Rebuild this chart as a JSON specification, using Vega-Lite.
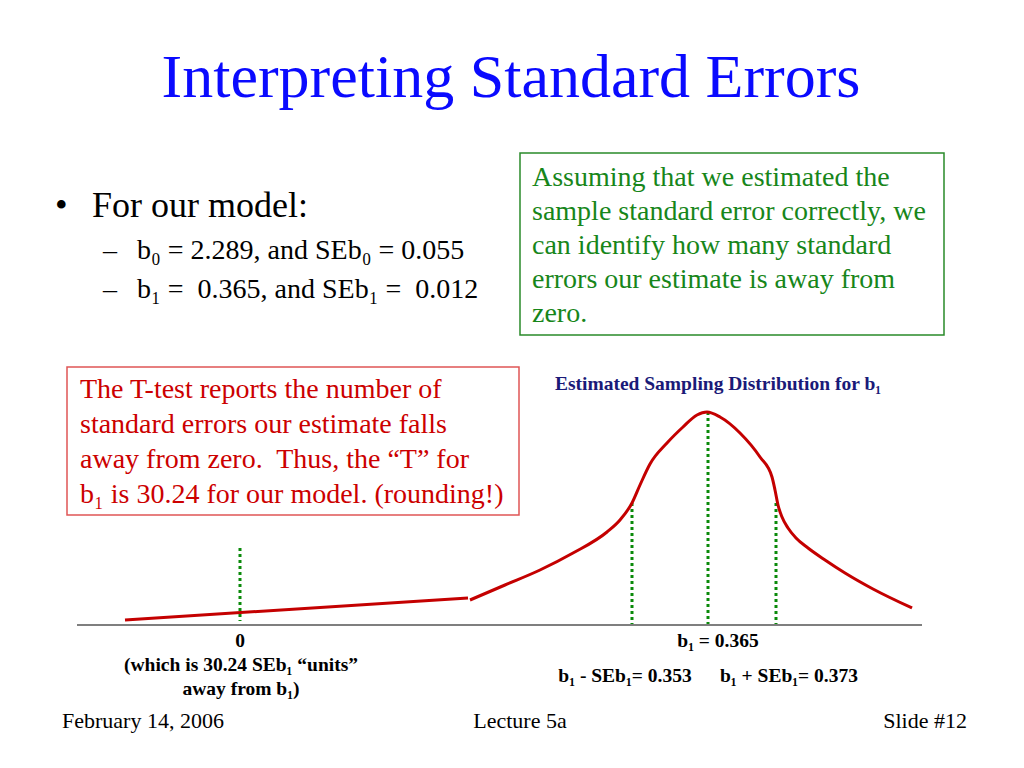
{
  "$schema": "https://vega.github.io/schema/vega-lite/v6.json",
  "width": 1024,
  "height": 768,
  "autosize": {"type": "fit", "contains": "padding"},
  "padding": 0,
  "background": "white",
  "config": {"view": {"stroke": null}},
  "encoding": {
    "x": {"field": "sx", "type": "quantitative", "scale": {"domain": [0, 1024], "nice": false, "zero": false}, "axis": null},
    "y": {"field": "sy", "type": "quantitative", "scale": {"domain": [0, 768], "nice": false, "zero": false, "reverse": true}, "axis": null}
  },
  "layer": [
    {
      "data": {"values": [
        {"box": "note", "sx": 520, "sy": 153, "sx2": 944, "sy2": 335}
      ]},
      "mark": {"type": "rect", "fill": "white", "stroke": "#2a8a2a", "strokeWidth": 1.5},
      "encoding": {"x2": {"field": "sx2"}, "y2": {"field": "sy2"}}
    },
    {
      "data": {"values": [
        {"box": "ttest", "sx": 67, "sy": 367, "sx2": 519, "sy2": 515}
      ]},
      "mark": {"type": "rect", "fill": "white", "stroke": "#e05555", "strokeWidth": 1.5},
      "encoding": {"x2": {"field": "sx2"}, "y2": {"field": "sy2"}}
    },
    {
      "data": {"values": [
        {"part": "axis", "sx": 77, "sx2": 922, "sy": 625}
      ]},
      "mark": {"type": "rule", "color": "#555555", "strokeWidth": 1.5},
      "encoding": {"x2": {"field": "sx2"}}
    },
    {
      "data": {"values": [
        {"guide": "zero", "sx": 240, "sy": 548, "sy2": 621},
        {"guide": "b1 - SEb1", "sx": 632, "sy": 503, "sy2": 624},
        {"guide": "b1", "sx": 708, "sy": 412, "sy2": 624},
        {"guide": "b1 + SEb1", "sx": 776, "sy": 503, "sy2": 624}
      ]},
      "mark": {"type": "rule", "color": "#0a8a0a", "strokeWidth": 3, "strokeDash": [3, 3]},
      "encoding": {"y2": {"field": "sy2"}}
    },
    {
      "data": {"values": [
        {"seg": "left", "sx": 125, "sy": 620},
        {"seg": "left", "sx": 468, "sy": 598},
        {"seg": "right", "sx": 470, "sy": 600},
        {"seg": "right", "sx": 505, "sy": 585},
        {"seg": "right", "sx": 540, "sy": 570},
        {"seg": "right", "sx": 573, "sy": 553},
        {"seg": "right", "sx": 607, "sy": 532},
        {"seg": "right", "sx": 620, "sy": 520},
        {"seg": "right", "sx": 632, "sy": 503},
        {"seg": "right", "sx": 640, "sy": 485},
        {"seg": "right", "sx": 650, "sy": 464},
        {"seg": "right", "sx": 667, "sy": 443},
        {"seg": "right", "sx": 683, "sy": 427},
        {"seg": "right", "sx": 697, "sy": 415},
        {"seg": "right", "sx": 707, "sy": 412},
        {"seg": "right", "sx": 720, "sy": 417},
        {"seg": "right", "sx": 740, "sy": 433},
        {"seg": "right", "sx": 760, "sy": 457},
        {"seg": "right", "sx": 772, "sy": 477},
        {"seg": "right", "sx": 775, "sy": 490},
        {"seg": "right", "sx": 778, "sy": 505},
        {"seg": "right", "sx": 782, "sy": 517},
        {"seg": "right", "sx": 788, "sy": 528},
        {"seg": "right", "sx": 796, "sy": 538},
        {"seg": "right", "sx": 808, "sy": 548},
        {"seg": "right", "sx": 825, "sy": 560},
        {"seg": "right", "sx": 845, "sy": 573},
        {"seg": "right", "sx": 873, "sy": 589},
        {"seg": "right", "sx": 912, "sy": 608}
      ]},
      "mark": {"type": "line", "color": "#c40000", "strokeWidth": 3, "interpolate": "monotone"},
      "encoding": {"detail": {"field": "seg"}, "order": {"field": "sx", "type": "quantitative"}}
    },
    {
      "data": {"values": [
        {"label": "Interpreting Standard Errors", "sx": 511, "sy": 97}
      ]},
      "mark": {"type": "text", "font": "Liberation Serif", "fontSize": 62, "color": "#0a0aff", "align": "center", "baseline": "alphabetic"},
      "encoding": {"text": {"field": "label"}}
    },
    {
      "data": {"values": [
        {"label": "•", "sx": 55, "sy": 217},
        {"label": "For our model:", "sx": 92, "sy": 217}
      ]},
      "mark": {"type": "text", "font": "Liberation Serif", "fontSize": 36, "color": "black", "align": "left", "baseline": "alphabetic"},
      "encoding": {"text": {"field": "label"}}
    },
    {
      "data": {"values": [
        {"label": "–", "sx": 103, "sy": 259},
        {"label": "b₀ = 2.289, and SEb₀ = 0.055", "sx": 137, "sy": 259},
        {"label": "–", "sx": 103, "sy": 298},
        {"label": "b₁ =\u00a0 0.365, and SEb₁ =\u00a0 0.012", "sx": 137, "sy": 298}
      ]},
      "mark": {"type": "text", "font": "Liberation Serif", "fontSize": 28, "color": "black", "align": "left", "baseline": "alphabetic"},
      "encoding": {"text": {"field": "label"}}
    },
    {
      "data": {"values": [
        {"label": "Assuming that we estimated the\nsample standard error correctly, we\ncan identify how many standard\nerrors our estimate is away from\nzero.", "sx": 532, "sy": 186}
      ]},
      "mark": {"type": "text", "font": "Liberation Serif", "fontSize": 28, "color": "#17861a", "align": "left", "baseline": "alphabetic", "lineBreak": "\n", "lineHeight": 34},
      "encoding": {"text": {"field": "label"}}
    },
    {
      "data": {"values": [
        {"label": "The T-test reports the number of\nstandard errors our estimate falls\naway from zero.\u00a0 Thus, the “T” for\nb₁ is 30.24 for our model. (rounding!)", "sx": 80, "sy": 398}
      ]},
      "mark": {"type": "text", "font": "Liberation Serif", "fontSize": 28, "color": "#cc0000", "align": "left", "baseline": "alphabetic", "lineBreak": "\n", "lineHeight": 35},
      "encoding": {"text": {"field": "label"}}
    },
    {
      "data": {"values": [
        {"label": "Estimated Sampling Distribution for b₁", "sx": 718, "sy": 390}
      ]},
      "mark": {"type": "text", "font": "Liberation Serif", "fontSize": 19.5, "fontWeight": "bold", "color": "#1a1a78", "align": "center", "baseline": "alphabetic"},
      "encoding": {"text": {"field": "label"}}
    },
    {
      "data": {"values": [
        {"label": "0", "sx": 240, "sy": 647},
        {"label": "(which is 30.24 SEb₁ “units”", "sx": 241, "sy": 671},
        {"label": "away from b₁)", "sx": 241, "sy": 695},
        {"label": "b₁ = 0.365", "sx": 718, "sy": 647},
        {"label": "b₁ - SEb₁= 0.353", "sx": 625, "sy": 682},
        {"label": "b₁ + SEb₁= 0.373", "sx": 789, "sy": 682}
      ]},
      "mark": {"type": "text", "font": "Liberation Serif", "fontSize": 19.5, "fontWeight": "bold", "color": "black", "align": "center", "baseline": "alphabetic"},
      "encoding": {"text": {"field": "label"}}
    },
    {
      "data": {"values": [
        {"label": "February 14, 2006", "sx": 62, "sy": 728}
      ]},
      "mark": {"type": "text", "font": "Liberation Serif", "fontSize": 22, "color": "black", "align": "left", "baseline": "alphabetic"},
      "encoding": {"text": {"field": "label"}}
    },
    {
      "data": {"values": [
        {"label": "Lecture 5a", "sx": 520, "sy": 728}
      ]},
      "mark": {"type": "text", "font": "Liberation Serif", "fontSize": 22, "color": "black", "align": "center", "baseline": "alphabetic"},
      "encoding": {"text": {"field": "label"}}
    },
    {
      "data": {"values": [
        {"label": "Slide #12", "sx": 967, "sy": 728}
      ]},
      "mark": {"type": "text", "font": "Liberation Serif", "fontSize": 22, "color": "black", "align": "right", "baseline": "alphabetic"},
      "encoding": {"text": {"field": "label"}}
    }
  ]
}
